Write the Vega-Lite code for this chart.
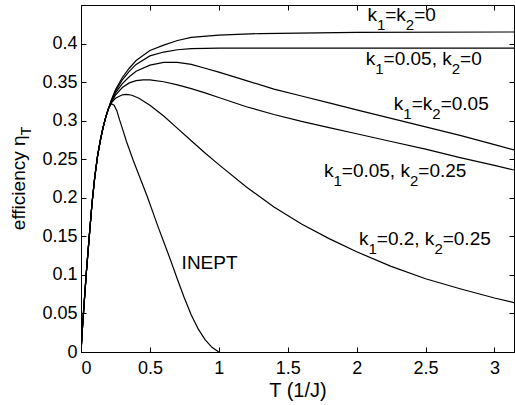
{
  "$schema": "https://vega.github.io/schema/vega-lite/v6.json",
  "width": 433,
  "height": 347,
  "autosize": "none",
  "padding": {"left": 81, "top": 5, "right": 1, "bottom": 53},
  "background": "white",
  "config": {
    "view": {"stroke": "black", "strokeWidth": 1},
    "font": "Liberation Sans",
    "text": {"font": "Liberation Sans", "color": "black", "align": "left", "baseline": "alphabetic", "fontSize": 19},
    "axis": {
      "grid": false,
      "domainColor": "black",
      "tickColor": "black",
      "labelColor": "black",
      "labelFont": "Liberation Sans",
      "labelFontSize": 18,
      "titleFont": "Liberation Sans",
      "titleFontSize": 20,
      "titleFontWeight": "normal",
      "titleColor": "black",
      "tickSize": -5,
      "tickWidth": 1
    }
  },
  "datasets": {
    "curves": [
      {"curve": "INEPT", "T": 0, "eta": 0}, {"curve": "INEPT", "T": 0.01, "eta": 0.03}, {"curve": "INEPT", "T": 0.02, "eta": 0.056}, {"curve": "INEPT", "T": 0.04, "eta": 0.106}, {"curve": "INEPT", "T": 0.06, "eta": 0.15}, {"curve": "INEPT", "T": 0.08, "eta": 0.193}, {"curve": "INEPT", "T": 0.1, "eta": 0.227}, {"curve": "INEPT", "T": 0.12, "eta": 0.254}, {"curve": "INEPT", "T": 0.14, "eta": 0.274}, {"curve": "INEPT", "T": 0.16, "eta": 0.291}, {"curve": "INEPT", "T": 0.18, "eta": 0.305}, {"curve": "INEPT", "T": 0.2, "eta": 0.316},
      {"curve": "INEPT", "T": 0.22, "eta": 0.322}, {"curve": "INEPT", "T": 0.24, "eta": 0.32}, {"curve": "INEPT", "T": 0.26, "eta": 0.313}, {"curve": "INEPT", "T": 0.28, "eta": 0.301}, {"curve": "INEPT", "T": 0.3, "eta": 0.29}, {"curve": "INEPT", "T": 0.33, "eta": 0.273}, {"curve": "INEPT", "T": 0.38, "eta": 0.248}, {"curve": "INEPT", "T": 0.43, "eta": 0.225}, {"curve": "INEPT", "T": 0.48, "eta": 0.202}, {"curve": "INEPT", "T": 0.52, "eta": 0.182}, {"curve": "INEPT", "T": 0.56, "eta": 0.162}, {"curve": "INEPT", "T": 0.6, "eta": 0.143}, {"curve": "INEPT", "T": 0.65, "eta": 0.119}, {"curve": "INEPT", "T": 0.7, "eta": 0.094}, {"curve": "INEPT", "T": 0.75, "eta": 0.07}, {"curve": "INEPT", "T": 0.8, "eta": 0.048}, {"curve": "INEPT", "T": 0.85, "eta": 0.03}, {"curve": "INEPT", "T": 0.9, "eta": 0.016}, {"curve": "INEPT", "T": 0.95, "eta": 0.006}, {"curve": "INEPT", "T": 1.0, "eta": 0},

      {"curve": "k1=0.2,k2=0.25", "T": 0, "eta": 0}, {"curve": "k1=0.2,k2=0.25", "T": 0.01, "eta": 0.03}, {"curve": "k1=0.2,k2=0.25", "T": 0.02, "eta": 0.056}, {"curve": "k1=0.2,k2=0.25", "T": 0.04, "eta": 0.106}, {"curve": "k1=0.2,k2=0.25", "T": 0.06, "eta": 0.15}, {"curve": "k1=0.2,k2=0.25", "T": 0.08, "eta": 0.193}, {"curve": "k1=0.2,k2=0.25", "T": 0.1, "eta": 0.227}, {"curve": "k1=0.2,k2=0.25", "T": 0.12, "eta": 0.254}, {"curve": "k1=0.2,k2=0.25", "T": 0.14, "eta": 0.274}, {"curve": "k1=0.2,k2=0.25", "T": 0.16, "eta": 0.291}, {"curve": "k1=0.2,k2=0.25", "T": 0.18, "eta": 0.305}, {"curve": "k1=0.2,k2=0.25", "T": 0.2, "eta": 0.316},
      {"curve": "k1=0.2,k2=0.25", "T": 0.22, "eta": 0.323}, {"curve": "k1=0.2,k2=0.25", "T": 0.25, "eta": 0.329}, {"curve": "k1=0.2,k2=0.25", "T": 0.3, "eta": 0.3335}, {"curve": "k1=0.2,k2=0.25", "T": 0.33, "eta": 0.334}, {"curve": "k1=0.2,k2=0.25", "T": 0.37, "eta": 0.333}, {"curve": "k1=0.2,k2=0.25", "T": 0.42, "eta": 0.329}, {"curve": "k1=0.2,k2=0.25", "T": 0.5, "eta": 0.32}, {"curve": "k1=0.2,k2=0.25", "T": 0.6, "eta": 0.306}, {"curve": "k1=0.2,k2=0.25", "T": 0.7, "eta": 0.29}, {"curve": "k1=0.2,k2=0.25", "T": 0.8, "eta": 0.274}, {"curve": "k1=0.2,k2=0.25", "T": 0.9, "eta": 0.258}, {"curve": "k1=0.2,k2=0.25", "T": 1.0, "eta": 0.243}, {"curve": "k1=0.2,k2=0.25", "T": 1.2, "eta": 0.214}, {"curve": "k1=0.2,k2=0.25", "T": 1.4, "eta": 0.188}, {"curve": "k1=0.2,k2=0.25", "T": 1.6, "eta": 0.166}, {"curve": "k1=0.2,k2=0.25", "T": 1.8, "eta": 0.147}, {"curve": "k1=0.2,k2=0.25", "T": 2.0, "eta": 0.13}, {"curve": "k1=0.2,k2=0.25", "T": 2.25, "eta": 0.111}, {"curve": "k1=0.2,k2=0.25", "T": 2.5, "eta": 0.095}, {"curve": "k1=0.2,k2=0.25", "T": 2.75, "eta": 0.082}, {"curve": "k1=0.2,k2=0.25", "T": 3.0, "eta": 0.07}, {"curve": "k1=0.2,k2=0.25", "T": 3.1416, "eta": 0.064},

      {"curve": "k1=0.05,k2=0.25", "T": 0, "eta": 0}, {"curve": "k1=0.05,k2=0.25", "T": 0.01, "eta": 0.03}, {"curve": "k1=0.05,k2=0.25", "T": 0.02, "eta": 0.056}, {"curve": "k1=0.05,k2=0.25", "T": 0.04, "eta": 0.106}, {"curve": "k1=0.05,k2=0.25", "T": 0.06, "eta": 0.15}, {"curve": "k1=0.05,k2=0.25", "T": 0.08, "eta": 0.193}, {"curve": "k1=0.05,k2=0.25", "T": 0.1, "eta": 0.227}, {"curve": "k1=0.05,k2=0.25", "T": 0.12, "eta": 0.254}, {"curve": "k1=0.05,k2=0.25", "T": 0.14, "eta": 0.274}, {"curve": "k1=0.05,k2=0.25", "T": 0.16, "eta": 0.291}, {"curve": "k1=0.05,k2=0.25", "T": 0.18, "eta": 0.305}, {"curve": "k1=0.05,k2=0.25", "T": 0.2, "eta": 0.316},
      {"curve": "k1=0.05,k2=0.25", "T": 0.22, "eta": 0.324}, {"curve": "k1=0.05,k2=0.25", "T": 0.25, "eta": 0.333}, {"curve": "k1=0.05,k2=0.25", "T": 0.3, "eta": 0.343}, {"curve": "k1=0.05,k2=0.25", "T": 0.35, "eta": 0.349}, {"curve": "k1=0.05,k2=0.25", "T": 0.4, "eta": 0.352}, {"curve": "k1=0.05,k2=0.25", "T": 0.45, "eta": 0.353}, {"curve": "k1=0.05,k2=0.25", "T": 0.5, "eta": 0.3528}, {"curve": "k1=0.05,k2=0.25", "T": 0.6, "eta": 0.3505}, {"curve": "k1=0.05,k2=0.25", "T": 0.7, "eta": 0.3465}, {"curve": "k1=0.05,k2=0.25", "T": 0.8, "eta": 0.3415}, {"curve": "k1=0.05,k2=0.25", "T": 0.9, "eta": 0.336}, {"curve": "k1=0.05,k2=0.25", "T": 1.0, "eta": 0.33}, {"curve": "k1=0.05,k2=0.25", "T": 1.2, "eta": 0.318}, {"curve": "k1=0.05,k2=0.25", "T": 1.4, "eta": 0.308}, {"curve": "k1=0.05,k2=0.25", "T": 1.6, "eta": 0.299}, {"curve": "k1=0.05,k2=0.25", "T": 1.8, "eta": 0.291}, {"curve": "k1=0.05,k2=0.25", "T": 2.0, "eta": 0.283}, {"curve": "k1=0.05,k2=0.25", "T": 2.25, "eta": 0.273}, {"curve": "k1=0.05,k2=0.25", "T": 2.5, "eta": 0.263}, {"curve": "k1=0.05,k2=0.25", "T": 2.75, "eta": 0.252}, {"curve": "k1=0.05,k2=0.25", "T": 3.0, "eta": 0.242}, {"curve": "k1=0.05,k2=0.25", "T": 3.1416, "eta": 0.236},

      {"curve": "k1=k2=0.05", "T": 0, "eta": 0}, {"curve": "k1=k2=0.05", "T": 0.01, "eta": 0.03}, {"curve": "k1=k2=0.05", "T": 0.02, "eta": 0.056}, {"curve": "k1=k2=0.05", "T": 0.04, "eta": 0.106}, {"curve": "k1=k2=0.05", "T": 0.06, "eta": 0.15}, {"curve": "k1=k2=0.05", "T": 0.08, "eta": 0.193}, {"curve": "k1=k2=0.05", "T": 0.1, "eta": 0.227}, {"curve": "k1=k2=0.05", "T": 0.12, "eta": 0.254}, {"curve": "k1=k2=0.05", "T": 0.14, "eta": 0.274}, {"curve": "k1=k2=0.05", "T": 0.16, "eta": 0.291}, {"curve": "k1=k2=0.05", "T": 0.18, "eta": 0.305}, {"curve": "k1=k2=0.05", "T": 0.2, "eta": 0.316},
      {"curve": "k1=k2=0.05", "T": 0.22, "eta": 0.325}, {"curve": "k1=k2=0.05", "T": 0.25, "eta": 0.336}, {"curve": "k1=k2=0.05", "T": 0.3, "eta": 0.348}, {"curve": "k1=k2=0.05", "T": 0.35, "eta": 0.357}, {"curve": "k1=k2=0.05", "T": 0.4, "eta": 0.364}, {"curve": "k1=k2=0.05", "T": 0.5, "eta": 0.372}, {"curve": "k1=k2=0.05", "T": 0.6, "eta": 0.3755}, {"curve": "k1=k2=0.05", "T": 0.7, "eta": 0.3755}, {"curve": "k1=k2=0.05", "T": 0.8, "eta": 0.373}, {"curve": "k1=k2=0.05", "T": 0.9, "eta": 0.368}, {"curve": "k1=k2=0.05", "T": 1.0, "eta": 0.363}, {"curve": "k1=k2=0.05", "T": 1.2, "eta": 0.352}, {"curve": "k1=k2=0.05", "T": 1.4, "eta": 0.341}, {"curve": "k1=k2=0.05", "T": 1.6, "eta": 0.332}, {"curve": "k1=k2=0.05", "T": 1.8, "eta": 0.323}, {"curve": "k1=k2=0.05", "T": 2.0, "eta": 0.314}, {"curve": "k1=k2=0.05", "T": 2.25, "eta": 0.303}, {"curve": "k1=k2=0.05", "T": 2.5, "eta": 0.292}, {"curve": "k1=k2=0.05", "T": 2.75, "eta": 0.281}, {"curve": "k1=k2=0.05", "T": 3.0, "eta": 0.269}, {"curve": "k1=k2=0.05", "T": 3.1416, "eta": 0.262},

      {"curve": "k1=0.05,k2=0", "T": 0, "eta": 0}, {"curve": "k1=0.05,k2=0", "T": 0.01, "eta": 0.03}, {"curve": "k1=0.05,k2=0", "T": 0.02, "eta": 0.056}, {"curve": "k1=0.05,k2=0", "T": 0.04, "eta": 0.106}, {"curve": "k1=0.05,k2=0", "T": 0.06, "eta": 0.15}, {"curve": "k1=0.05,k2=0", "T": 0.08, "eta": 0.193}, {"curve": "k1=0.05,k2=0", "T": 0.1, "eta": 0.227}, {"curve": "k1=0.05,k2=0", "T": 0.12, "eta": 0.254}, {"curve": "k1=0.05,k2=0", "T": 0.14, "eta": 0.274}, {"curve": "k1=0.05,k2=0", "T": 0.16, "eta": 0.291}, {"curve": "k1=0.05,k2=0", "T": 0.18, "eta": 0.305}, {"curve": "k1=0.05,k2=0", "T": 0.2, "eta": 0.316},
      {"curve": "k1=0.05,k2=0", "T": 0.22, "eta": 0.326}, {"curve": "k1=0.05,k2=0", "T": 0.25, "eta": 0.338}, {"curve": "k1=0.05,k2=0", "T": 0.3, "eta": 0.353}, {"curve": "k1=0.05,k2=0", "T": 0.35, "eta": 0.364}, {"curve": "k1=0.05,k2=0", "T": 0.4, "eta": 0.373}, {"curve": "k1=0.05,k2=0", "T": 0.5, "eta": 0.384}, {"curve": "k1=0.05,k2=0", "T": 0.6, "eta": 0.389}, {"curve": "k1=0.05,k2=0", "T": 0.7, "eta": 0.392}, {"curve": "k1=0.05,k2=0", "T": 0.8, "eta": 0.3935}, {"curve": "k1=0.05,k2=0", "T": 1.0, "eta": 0.394}, {"curve": "k1=0.05,k2=0", "T": 1.5, "eta": 0.394}, {"curve": "k1=0.05,k2=0", "T": 2.0, "eta": 0.394}, {"curve": "k1=0.05,k2=0", "T": 3.1416, "eta": 0.394},

      {"curve": "k1=k2=0", "T": 0, "eta": 0}, {"curve": "k1=k2=0", "T": 0.01, "eta": 0.03}, {"curve": "k1=k2=0", "T": 0.02, "eta": 0.056}, {"curve": "k1=k2=0", "T": 0.04, "eta": 0.106}, {"curve": "k1=k2=0", "T": 0.06, "eta": 0.15}, {"curve": "k1=k2=0", "T": 0.08, "eta": 0.193}, {"curve": "k1=k2=0", "T": 0.1, "eta": 0.227}, {"curve": "k1=k2=0", "T": 0.12, "eta": 0.254}, {"curve": "k1=k2=0", "T": 0.14, "eta": 0.274}, {"curve": "k1=k2=0", "T": 0.16, "eta": 0.291}, {"curve": "k1=k2=0", "T": 0.18, "eta": 0.305}, {"curve": "k1=k2=0", "T": 0.2, "eta": 0.316},
      {"curve": "k1=k2=0", "T": 0.22, "eta": 0.327}, {"curve": "k1=k2=0", "T": 0.25, "eta": 0.34}, {"curve": "k1=k2=0", "T": 0.3, "eta": 0.356}, {"curve": "k1=k2=0", "T": 0.35, "eta": 0.368}, {"curve": "k1=k2=0", "T": 0.4, "eta": 0.378}, {"curve": "k1=k2=0", "T": 0.5, "eta": 0.391}, {"curve": "k1=k2=0", "T": 0.6, "eta": 0.398}, {"curve": "k1=k2=0", "T": 0.7, "eta": 0.404}, {"curve": "k1=k2=0", "T": 0.8, "eta": 0.408}, {"curve": "k1=k2=0", "T": 1.0, "eta": 0.411}, {"curve": "k1=k2=0", "T": 1.3, "eta": 0.413}, {"curve": "k1=k2=0", "T": 2.0, "eta": 0.4145}, {"curve": "k1=k2=0", "T": 3.1416, "eta": 0.415}
    ]
  },
  "layer": [
    {
      "data": {"name": "curves"},
      "mark": {"type": "line", "color": "black", "strokeWidth": 1.2, "clip": true},
      "encoding": {
        "x": {"field": "T", "type": "quantitative", "scale": {"domain": [0, 3.1416], "nice": false, "zero": false},
              "axis": {"orient": "bottom", "values": [0, 0.5, 1, 1.5, 2, 2.5, 3], "format": "~g", "title": "T (1/J)", "labelPadding": 12, "titlePadding": 3}},
        "y": {"field": "eta", "type": "quantitative", "scale": {"domain": [0, 0.45], "nice": false, "zero": false},
              "axis": {"orient": "left", "values": [0, 0.05, 0.1, 0.15, 0.2, 0.25, 0.3, 0.35, 0.4], "format": "~g", "title": null, "labelPadding": 9}},
        "detail": {"field": "curve"}
      }
    },
    {
      "data": {"name": "curves"},
      "mark": {"type": "line", "opacity": 0},
      "encoding": {
        "x": {"field": "T", "type": "quantitative", "axis": {"orient": "top", "values": [0, 0.5, 1, 1.5, 2, 2.5, 3], "labels": false, "title": null, "domain": false}},
        "y": {"field": "eta", "type": "quantitative", "axis": {"orient": "right", "values": [0, 0.05, 0.1, 0.15, 0.2, 0.25, 0.3, 0.35, 0.4], "labels": false, "title": null, "domain": false}},
        "detail": {"field": "curve"}
      }
    },

    {"data": {"values": [{}]}, "mark": {"type": "text"}, "encoding": {"x": {"datum": 2.078, "type": "quantitative", "axis": null}, "y": {"datum": 0.4293, "type": "quantitative", "axis": null}, "text": {"value": "k"}}},
    {"data": {"values": [{}]}, "mark": {"type": "text", "fontSize": 15, "dx": 9.5, "dy": 9}, "encoding": {"x": {"datum": 2.078, "type": "quantitative", "axis": null}, "y": {"datum": 0.4293, "type": "quantitative", "axis": null}, "text": {"value": "1"}}},
    {"data": {"values": [{}]}, "mark": {"type": "text", "dx": 17.8}, "encoding": {"x": {"datum": 2.078, "type": "quantitative", "axis": null}, "y": {"datum": 0.4293, "type": "quantitative", "axis": null}, "text": {"value": "=k"}}},
    {"data": {"values": [{}]}, "mark": {"type": "text", "fontSize": 15, "dx": 38.4, "dy": 9}, "encoding": {"x": {"datum": 2.078, "type": "quantitative", "axis": null}, "y": {"datum": 0.4293, "type": "quantitative", "axis": null}, "text": {"value": "2"}}},
    {"data": {"values": [{}]}, "mark": {"type": "text", "dx": 46.8}, "encoding": {"x": {"datum": 2.078, "type": "quantitative", "axis": null}, "y": {"datum": 0.4293, "type": "quantitative", "axis": null}, "text": {"value": "=0"}}},

    {"data": {"values": [{}]}, "mark": {"type": "text"}, "encoding": {"x": {"datum": 2.066, "type": "quantitative", "axis": null}, "y": {"datum": 0.3719, "type": "quantitative", "axis": null}, "text": {"value": "k"}}},
    {"data": {"values": [{}]}, "mark": {"type": "text", "fontSize": 15, "dx": 9.5, "dy": 9}, "encoding": {"x": {"datum": 2.066, "type": "quantitative", "axis": null}, "y": {"datum": 0.3719, "type": "quantitative", "axis": null}, "text": {"value": "1"}}},
    {"data": {"values": [{}]}, "mark": {"type": "text", "dx": 17.8}, "encoding": {"x": {"datum": 2.066, "type": "quantitative", "axis": null}, "y": {"datum": 0.3719, "type": "quantitative", "axis": null}, "text": {"value": "=0.05, k"}}},
    {"data": {"values": [{}]}, "mark": {"type": "text", "fontSize": 15, "dx": 86.0, "dy": 9}, "encoding": {"x": {"datum": 2.066, "type": "quantitative", "axis": null}, "y": {"datum": 0.3719, "type": "quantitative", "axis": null}, "text": {"value": "2"}}},
    {"data": {"values": [{}]}, "mark": {"type": "text", "dx": 94.3}, "encoding": {"x": {"datum": 2.066, "type": "quantitative", "axis": null}, "y": {"datum": 0.3719, "type": "quantitative", "axis": null}, "text": {"value": "=0"}}},

    {"data": {"values": [{}]}, "mark": {"type": "text"}, "encoding": {"x": {"datum": 2.27, "type": "quantitative", "axis": null}, "y": {"datum": 0.3136, "type": "quantitative", "axis": null}, "text": {"value": "k"}}},
    {"data": {"values": [{}]}, "mark": {"type": "text", "fontSize": 15, "dx": 9.5, "dy": 9}, "encoding": {"x": {"datum": 2.27, "type": "quantitative", "axis": null}, "y": {"datum": 0.3136, "type": "quantitative", "axis": null}, "text": {"value": "1"}}},
    {"data": {"values": [{}]}, "mark": {"type": "text", "dx": 17.8}, "encoding": {"x": {"datum": 2.27, "type": "quantitative", "axis": null}, "y": {"datum": 0.3136, "type": "quantitative", "axis": null}, "text": {"value": "=k"}}},
    {"data": {"values": [{}]}, "mark": {"type": "text", "fontSize": 15, "dx": 38.4, "dy": 9}, "encoding": {"x": {"datum": 2.27, "type": "quantitative", "axis": null}, "y": {"datum": 0.3136, "type": "quantitative", "axis": null}, "text": {"value": "2"}}},
    {"data": {"values": [{}]}, "mark": {"type": "text", "dx": 46.8}, "encoding": {"x": {"datum": 2.27, "type": "quantitative", "axis": null}, "y": {"datum": 0.3136, "type": "quantitative", "axis": null}, "text": {"value": "=0.05"}}},

    {"data": {"values": [{}]}, "mark": {"type": "text"}, "encoding": {"x": {"datum": 1.763, "type": "quantitative", "axis": null}, "y": {"datum": 0.2272, "type": "quantitative", "axis": null}, "text": {"value": "k"}}},
    {"data": {"values": [{}]}, "mark": {"type": "text", "fontSize": 15, "dx": 9.5, "dy": 9}, "encoding": {"x": {"datum": 1.763, "type": "quantitative", "axis": null}, "y": {"datum": 0.2272, "type": "quantitative", "axis": null}, "text": {"value": "1"}}},
    {"data": {"values": [{}]}, "mark": {"type": "text", "dx": 17.8}, "encoding": {"x": {"datum": 1.763, "type": "quantitative", "axis": null}, "y": {"datum": 0.2272, "type": "quantitative", "axis": null}, "text": {"value": "=0.05, k"}}},
    {"data": {"values": [{}]}, "mark": {"type": "text", "fontSize": 15, "dx": 86.0, "dy": 9}, "encoding": {"x": {"datum": 1.763, "type": "quantitative", "axis": null}, "y": {"datum": 0.2272, "type": "quantitative", "axis": null}, "text": {"value": "2"}}},
    {"data": {"values": [{}]}, "mark": {"type": "text", "dx": 94.3}, "encoding": {"x": {"datum": 1.763, "type": "quantitative", "axis": null}, "y": {"datum": 0.2272, "type": "quantitative", "axis": null}, "text": {"value": "=0.25"}}},

    {"data": {"values": [{}]}, "mark": {"type": "text"}, "encoding": {"x": {"datum": 2.017, "type": "quantitative", "axis": null}, "y": {"datum": 0.1387, "type": "quantitative", "axis": null}, "text": {"value": "k"}}},
    {"data": {"values": [{}]}, "mark": {"type": "text", "fontSize": 15, "dx": 9.5, "dy": 9}, "encoding": {"x": {"datum": 2.017, "type": "quantitative", "axis": null}, "y": {"datum": 0.1387, "type": "quantitative", "axis": null}, "text": {"value": "1"}}},
    {"data": {"values": [{}]}, "mark": {"type": "text", "dx": 17.8}, "encoding": {"x": {"datum": 2.017, "type": "quantitative", "axis": null}, "y": {"datum": 0.1387, "type": "quantitative", "axis": null}, "text": {"value": "=0.2, k"}}},
    {"data": {"values": [{}]}, "mark": {"type": "text", "fontSize": 15, "dx": 75.4, "dy": 9}, "encoding": {"x": {"datum": 2.017, "type": "quantitative", "axis": null}, "y": {"datum": 0.1387, "type": "quantitative", "axis": null}, "text": {"value": "2"}}},
    {"data": {"values": [{}]}, "mark": {"type": "text", "dx": 83.7}, "encoding": {"x": {"datum": 2.017, "type": "quantitative", "axis": null}, "y": {"datum": 0.1387, "type": "quantitative", "axis": null}, "text": {"value": "=0.25"}}},

    {"data": {"values": [{}]}, "mark": {"type": "text"}, "encoding": {"x": {"datum": 0.73, "type": "quantitative", "axis": null}, "y": {"datum": 0.1072, "type": "quantitative", "axis": null}, "text": {"value": "INEPT"}}},

    {"data": {"values": [{}]}, "mark": {"type": "text", "angle": 270}, "encoding": {"x": {"datum": -0.4067, "type": "quantitative", "axis": null}, "y": {"datum": 0.158, "type": "quantitative", "axis": null}, "text": {"value": "efficiency \u03b7"}}},
    {"data": {"values": [{}]}, "mark": {"type": "text", "angle": 270, "fontSize": 14}, "encoding": {"x": {"datum": -0.363, "type": "quantitative", "axis": null}, "y": {"datum": 0.2812, "type": "quantitative", "axis": null}, "text": {"value": "T"}}}
  ],
  "resolve": {"axis": {"x": "independent", "y": "independent"}}
}
